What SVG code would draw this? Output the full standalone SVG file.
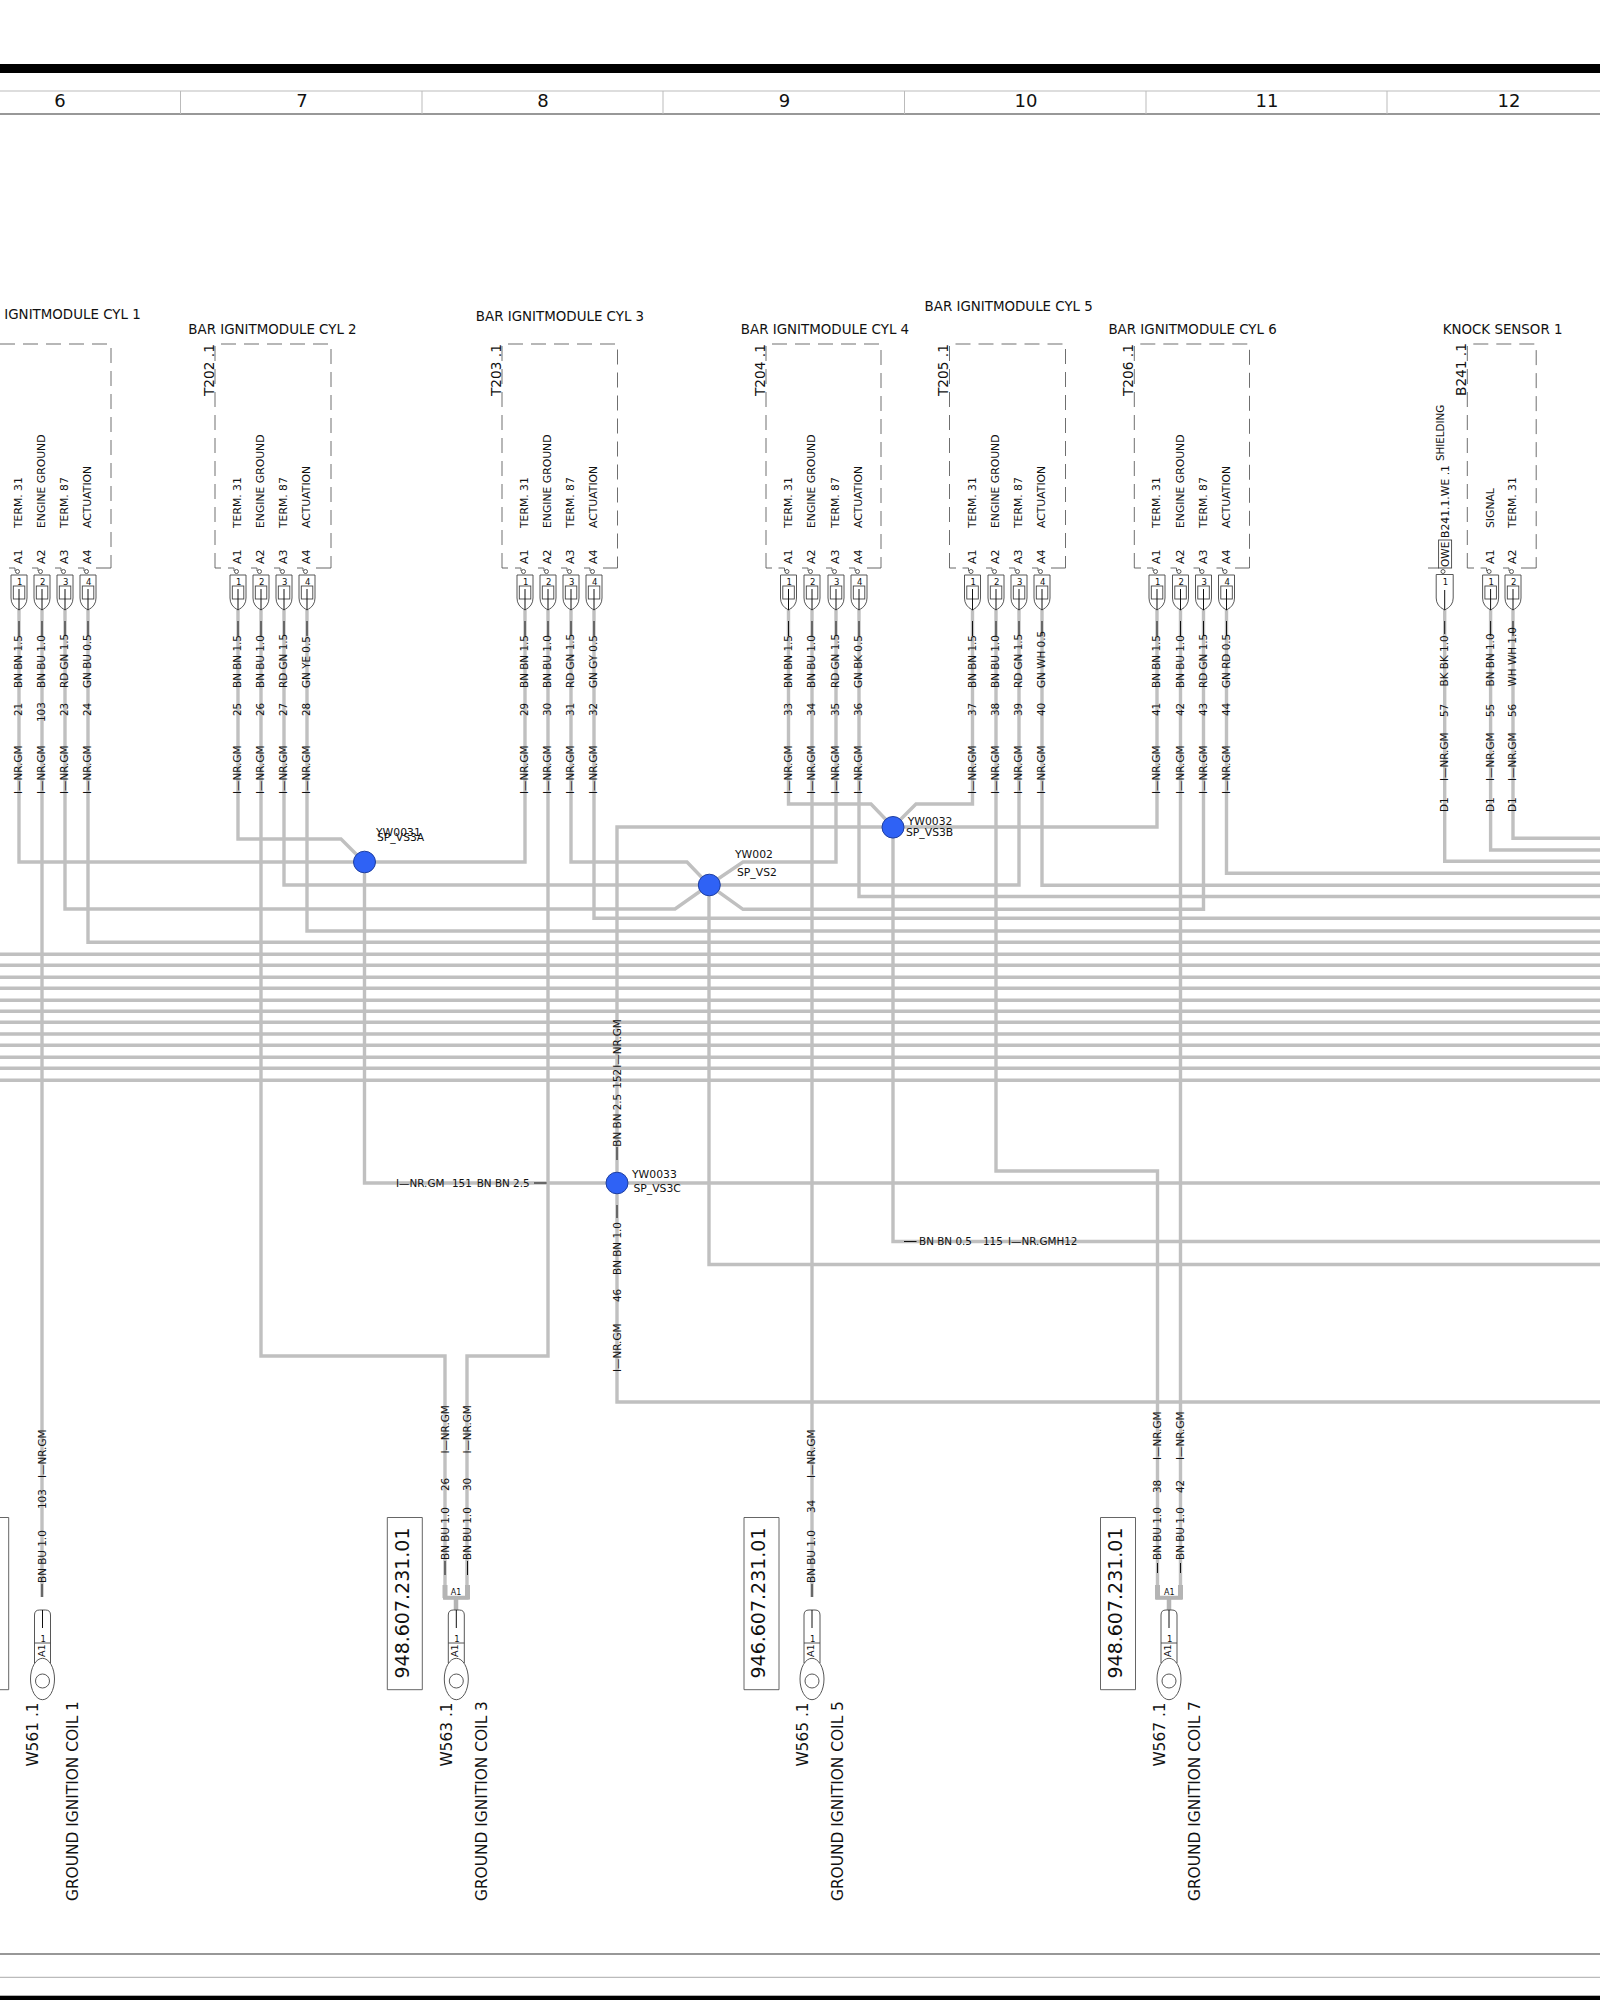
<svg xmlns="http://www.w3.org/2000/svg" xmlns:xlink="http://www.w3.org/1999/xlink" width="1600" height="2000" viewBox="0 0 1600 2000">
<style>
text{font-family:"DejaVu Sans","Liberation Sans",sans-serif;fill:#111}
.w{fill:none;stroke:#c0c0c0;stroke-width:3.4;stroke-linejoin:miter}
.k{stroke:#111;stroke-width:1;fill:none}
.of{stroke:#444;stroke-width:.9;fill:none}
.b{stroke:#555;stroke-width:.85;fill:none;stroke-dasharray:15 8}
.s{stroke:#555;stroke-width:.9;fill:none}
.l{font-size:10.4px}
.f{font-size:10.8px}
.a{font-size:11px}
.n{font-size:8.5px;text-anchor:middle}
.h{font-size:18px;text-anchor:middle}
.ti{font-size:13.4px}
.tc{font-size:13.4px;text-anchor:middle}
.id{font-size:13.7px}
.big{font-size:15.4px}
.pn{font-size:19px;text-anchor:middle}
.j{font-size:10.8px}
.node{fill:#2f62f5;stroke:#1f3fa0;stroke-width:1}
</style>
<defs>
<g id="pin">
<path class="s" d="M-10 568H-4V571"/>
<circle class="of" cx="-1.5" cy="571.5" r="2"/>
<path class="of" d="M-8 575H8V598Q8 606 0 610Q-8 606-8 598Z"/>
<rect class="of" x="-5.7" y="586" width="11.5" height="13"/>
<path class="k" d="M0 589V610M0 621V636"/>
</g>
<g id="term">
<path class="of" d="M-8 1663V1615Q-8 1610-3 1610H3Q8 1610 8 1615V1663M-8 1643H8"/>
<ellipse class="of" cx="0" cy="1679" rx="12" ry="20.7"/>
<circle class="of" cx="0" cy="1681" r="7"/>
<path class="k" d="M0 1610V1628"/>
</g>
</defs>
<g id="frame">
<rect x="0" y="64" width="1600" height="9" fill="#000"/>
<path d="M0 91H1600" stroke="#bbb" stroke-width="1.2" fill="none"/>
<path d="M0 114H1600" stroke="#333" stroke-width="1.2" fill="none"/>
<path d="M180.5 91V114M422 91V114M663 91V114M904.5 91V114M1146 91V114M1387 91V114" stroke="#bbb" stroke-width="1" fill="none"/>
<text class="h" x="60" y="107">6</text><text class="h" x="302" y="107">7</text><text class="h" x="543" y="107">8</text><text class="h" x="784.5" y="107">9</text><text class="h" x="1026" y="107">10</text><text class="h" x="1267" y="107">11</text><text class="h" x="1509" y="107">12</text>
<path d="M0 1954H1600" stroke="#333" stroke-width="1.2" fill="none"/>
<path d="M0 1977.3H1600" stroke="#bbb" stroke-width="1.2" fill="none"/>
<rect x="0" y="1995.7" width="1600" height="4.3" fill="#000"/>
</g>
<g id="connectors">
<path class="w" d="M19 610V862H364"/>
<path class="w" d="M42 610V1597"/>
<path class="w" d="M65 610V909H675L709 885"/>
<path class="w" d="M88 610V942.3H1600"/>
<path class="w" d="M238 610V839H341L364 862"/>
<path class="w" d="M261 610V1356H445V1598H467V1356H548V610"/>
<path class="w" d="M284 610V885H1019V610"/>
<path class="w" d="M307 610V931H1600"/>
<path class="w" d="M525 610V862H364"/>
<path class="w" d="M571 610V862H687L709 885"/>
<path class="w" d="M594 610V918.3H1600"/>
<path class="w" d="M788.5 610V804H871L893 827"/>
<path class="w" d="M812 610V1597"/>
<path class="w" d="M836 610V862H743L709 885"/>
<path class="w" d="M859 610V896.5H1600"/>
<path class="w" d="M972.5 610V804H916L893 827"/>
<path class="w" d="M996 610V1171H1157.5V1598H1180.5V610"/>
<path class="w" d="M1042 610V885.3H1600"/>
<path class="w" d="M1157 610V827H617V1402H1600"/>
<path class="w" d="M1203.5 610V909.3H743L709 885"/>
<path class="w" d="M1226.5 610V873.3H1600"/>
<path class="w" d="M1444.7 610V861.3H1600"/>
<path class="w" d="M1490.6 610V850H1600"/>
<path class="w" d="M1513 610V838.3H1600"/>
<path class="w" d="M364.5 862V1183H1600"/>
<path class="w" d="M893 827V1241.5H1600"/>
<path class="w" d="M709 885V1264.5H1600"/>
<path class="w" d="M0 954.3H1600M0 965.3H1600M0 977.3H1600M0 988.3H1600M0 1000.3H1600M0 1011.3H1600M0 1022.3H1600M0 1034H1600M0 1045.3H1600M0 1057.3H1600M0 1068.3H1600M0 1080.3H1600"/>
<path d="M445 1585V1598M467.5 1585V1598M1157.5 1585V1598M1180.5 1585V1598" stroke="#b4b4b4" stroke-width="5" fill="none"/>
<path d="M456 1598V1610M1169 1598V1610" stroke="#b4b4b4" stroke-width="4.5" fill="none"/>
<path d="M443 1597.6H470M1155 1597.6H1183" stroke="#b4b4b4" stroke-width="3.8" fill="none"/>
<path class="k" d="M534 1183H546.6M904 1241.5H916.5M617 1147V1160M617 1205V1218M42 1584V1597M812 1584V1597M445 1561V1575M467.5 1561V1575M1157.5 1563V1573M1180.5 1563V1573"/>
<text class="l" x="396" y="1187">I—NR.GM<tspan x="452">151</tspan><tspan x="476.7">BN BN 2.5</tspan></text>
<text class="l" x="919" y="1245">BN BN 0.5<tspan x="983">115</tspan><tspan x="1008">I—NR.GMH12</tspan></text>
<text class="l" transform="translate(620.5 1146.7) rotate(-90)">BN BN 2.5<tspan x="58">152</tspan><tspan x="79">I—NR.GM</tspan></text>
<text class="l" transform="translate(620.5 1372) rotate(-90)">I—NR.GM<tspan x="70">46</tspan><tspan x="97">BN BN 1.0</tspan></text>
</g>
<g id="T201">
<path class="b" d="M0 344H111V568"/><path class="s" d="M111 568H96"/>
<use xlink:href="#pin" href="#pin" x="19"/><use xlink:href="#pin" href="#pin" x="42"/><use xlink:href="#pin" href="#pin" x="65"/><use xlink:href="#pin" href="#pin" x="88"/>
<text class="ti" x="4.3" y="318.5">IGNITMODULE CYL 1</text>
<text class="n" x="19.7" y="585">1</text><text class="n" x="42.7" y="585">2</text><text class="n" x="65.7" y="585">3</text><text class="n" x="88.7" y="585">4</text>
<text class="a" transform="translate(22 564) rotate(-90)">A1</text><text class="a" transform="translate(45 564) rotate(-90)">A2</text><text class="a" transform="translate(68 564) rotate(-90)">A3</text><text class="a" transform="translate(91 564) rotate(-90)">A4</text>
<text class="f" transform="translate(22 528) rotate(-90)">TERM. 31</text><text class="f" transform="translate(45 528) rotate(-90)">ENGINE GROUND</text><text class="f" transform="translate(68 528) rotate(-90)">TERM. 87</text><text class="f" transform="translate(91 528) rotate(-90)">ACTUATION</text>
<text class="l" transform="translate(22 794) rotate(-90)">I—NR.GM<tspan x="78">21</tspan><tspan x="106">BN BN 1.5</tspan></text>
<text class="l" transform="translate(45 794) rotate(-90)">I—NR.GM<tspan x="72">103</tspan><tspan x="106">BN BU 1.0</tspan></text>
<text class="l" transform="translate(68 794) rotate(-90)">I—NR.GM<tspan x="78">23</tspan><tspan x="106">RD GN 1.5</tspan></text>
<text class="l" transform="translate(91 794) rotate(-90)">I—NR.GM<tspan x="78">24</tspan><tspan x="106">GN BU 0.5</tspan></text>
</g>
<g id="T202">
<path class="b" d="M215 568V344H331V568"/><path class="s" d="M215 568H221M331 568H316"/>
<use xlink:href="#pin" href="#pin" x="238"/><use xlink:href="#pin" href="#pin" x="261"/><use xlink:href="#pin" href="#pin" x="284"/><use xlink:href="#pin" href="#pin" x="307"/>
<text class="tc" x="272.5" y="333.5">BAR IGNITMODULE CYL 2</text>
<text class="id" transform="translate(213.5 396) rotate(-90)">T202 .1</text>
<text class="n" x="238.7" y="585">1</text><text class="n" x="261.7" y="585">2</text><text class="n" x="284.7" y="585">3</text><text class="n" x="307.7" y="585">4</text>
<text class="a" transform="translate(241 564) rotate(-90)">A1</text><text class="a" transform="translate(264 564) rotate(-90)">A2</text><text class="a" transform="translate(287 564) rotate(-90)">A3</text><text class="a" transform="translate(310 564) rotate(-90)">A4</text>
<text class="f" transform="translate(241 528) rotate(-90)">TERM. 31</text><text class="f" transform="translate(264 528) rotate(-90)">ENGINE GROUND</text><text class="f" transform="translate(287 528) rotate(-90)">TERM. 87</text><text class="f" transform="translate(310 528) rotate(-90)">ACTUATION</text>
<text class="l" transform="translate(241 794) rotate(-90)">I—NR.GM<tspan x="78">25</tspan><tspan x="106">BN BN 1.5</tspan></text>
<text class="l" transform="translate(264 794) rotate(-90)">I—NR.GM<tspan x="78">26</tspan><tspan x="106">BN BU 1.0</tspan></text>
<text class="l" transform="translate(287 794) rotate(-90)">I—NR.GM<tspan x="78">27</tspan><tspan x="106">RD GN 1.5</tspan></text>
<text class="l" transform="translate(310 794) rotate(-90)">I—NR.GM<tspan x="78">28</tspan><tspan x="106">GN YE 0.5</tspan></text>
</g>
<g id="T203">
<path class="b" d="M502 568V344H617.5V568"/><path class="s" d="M502 568H508M617.5 568H603"/>
<use xlink:href="#pin" href="#pin" x="525"/><use xlink:href="#pin" href="#pin" x="548"/><use xlink:href="#pin" href="#pin" x="571"/><use xlink:href="#pin" href="#pin" x="594"/>
<text class="tc" x="560" y="321">BAR IGNITMODULE CYL 3</text>
<text class="id" transform="translate(500.5 396) rotate(-90)">T203 .1</text>
<text class="n" x="525.7" y="585">1</text><text class="n" x="548.7" y="585">2</text><text class="n" x="571.7" y="585">3</text><text class="n" x="594.7" y="585">4</text>
<text class="a" transform="translate(528 564) rotate(-90)">A1</text><text class="a" transform="translate(551 564) rotate(-90)">A2</text><text class="a" transform="translate(574 564) rotate(-90)">A3</text><text class="a" transform="translate(597 564) rotate(-90)">A4</text>
<text class="f" transform="translate(528 528) rotate(-90)">TERM. 31</text><text class="f" transform="translate(551 528) rotate(-90)">ENGINE GROUND</text><text class="f" transform="translate(574 528) rotate(-90)">TERM. 87</text><text class="f" transform="translate(597 528) rotate(-90)">ACTUATION</text>
<text class="l" transform="translate(528 794) rotate(-90)">I—NR.GM<tspan x="78">29</tspan><tspan x="106">BN BN 1.5</tspan></text>
<text class="l" transform="translate(551 794) rotate(-90)">I—NR.GM<tspan x="78">30</tspan><tspan x="106">BN BU 1.0</tspan></text>
<text class="l" transform="translate(574 794) rotate(-90)">I—NR.GM<tspan x="78">31</tspan><tspan x="106">RD GN 1.5</tspan></text>
<text class="l" transform="translate(597 794) rotate(-90)">I—NR.GM<tspan x="78">32</tspan><tspan x="106">GN GY 0.5</tspan></text>
</g>
<g id="T204">
<path class="b" d="M766 568V344H881V568"/><path class="s" d="M766 568H772M881 568H867"/>
<use xlink:href="#pin" href="#pin" x="788.5"/><use xlink:href="#pin" href="#pin" x="812"/><use xlink:href="#pin" href="#pin" x="836"/><use xlink:href="#pin" href="#pin" x="859"/>
<text class="tc" x="825" y="333.5">BAR IGNITMODULE CYL 4</text>
<text class="id" transform="translate(764.5 396) rotate(-90)">T204 .1</text>
<text class="n" x="789.2" y="585">1</text><text class="n" x="812.7" y="585">2</text><text class="n" x="836.7" y="585">3</text><text class="n" x="859.7" y="585">4</text>
<text class="a" transform="translate(791.5 564) rotate(-90)">A1</text><text class="a" transform="translate(815 564) rotate(-90)">A2</text><text class="a" transform="translate(839 564) rotate(-90)">A3</text><text class="a" transform="translate(862 564) rotate(-90)">A4</text>
<text class="f" transform="translate(791.5 528) rotate(-90)">TERM. 31</text><text class="f" transform="translate(815 528) rotate(-90)">ENGINE GROUND</text><text class="f" transform="translate(839 528) rotate(-90)">TERM. 87</text><text class="f" transform="translate(862 528) rotate(-90)">ACTUATION</text>
<text class="l" transform="translate(791.5 794) rotate(-90)">I—NR.GM<tspan x="78">33</tspan><tspan x="106">BN BN 1.5</tspan></text>
<text class="l" transform="translate(815 794) rotate(-90)">I—NR.GM<tspan x="78">34</tspan><tspan x="106">BN BU 1.0</tspan></text>
<text class="l" transform="translate(839 794) rotate(-90)">I—NR.GM<tspan x="78">35</tspan><tspan x="106">RD GN 1.5</tspan></text>
<text class="l" transform="translate(862 794) rotate(-90)">I—NR.GM<tspan x="78">36</tspan><tspan x="106">GN BK 0.5</tspan></text>
</g>
<g id="T205">
<path class="b" d="M949.5 568V344H1065.5V568"/><path class="s" d="M949.5 568H956M1065.5 568H1051"/>
<use xlink:href="#pin" href="#pin" x="972.5"/><use xlink:href="#pin" href="#pin" x="996"/><use xlink:href="#pin" href="#pin" x="1019"/><use xlink:href="#pin" href="#pin" x="1042"/>
<text class="tc" x="1008.7" y="311">BAR IGNITMODULE CYL 5</text>
<text class="id" transform="translate(948 396) rotate(-90)">T205 .1</text>
<text class="n" x="973.2" y="585">1</text><text class="n" x="996.7" y="585">2</text><text class="n" x="1019.7" y="585">3</text><text class="n" x="1042.7" y="585">4</text>
<text class="a" transform="translate(975.5 564) rotate(-90)">A1</text><text class="a" transform="translate(999 564) rotate(-90)">A2</text><text class="a" transform="translate(1022 564) rotate(-90)">A3</text><text class="a" transform="translate(1045 564) rotate(-90)">A4</text>
<text class="f" transform="translate(975.5 528) rotate(-90)">TERM. 31</text><text class="f" transform="translate(999 528) rotate(-90)">ENGINE GROUND</text><text class="f" transform="translate(1022 528) rotate(-90)">TERM. 87</text><text class="f" transform="translate(1045 528) rotate(-90)">ACTUATION</text>
<text class="l" transform="translate(975.5 794) rotate(-90)">I—NR.GM<tspan x="78">37</tspan><tspan x="106">BN BN 1.5</tspan></text>
<text class="l" transform="translate(999 794) rotate(-90)">I—NR.GM<tspan x="78">38</tspan><tspan x="106">BN BU 1.0</tspan></text>
<text class="l" transform="translate(1022 794) rotate(-90)">I—NR.GM<tspan x="78">39</tspan><tspan x="106">RD GN 1.5</tspan></text>
<text class="l" transform="translate(1045 794) rotate(-90)">I—NR.GM<tspan x="78">40</tspan><tspan x="106">GN WH 0.5</tspan></text>
</g>
<g id="T206">
<path class="b" d="M1134.3 568V344H1249.5V568"/><path class="s" d="M1134.3 568H1141M1249.5 568H1235"/>
<use xlink:href="#pin" href="#pin" x="1157"/><use xlink:href="#pin" href="#pin" x="1180.5"/><use xlink:href="#pin" href="#pin" x="1203.5"/><use xlink:href="#pin" href="#pin" x="1226.5"/>
<text class="tc" x="1192.6" y="333.5">BAR IGNITMODULE CYL 6</text>
<text class="id" transform="translate(1133 396) rotate(-90)">T206 .1</text>
<text class="n" x="1157.7" y="585">1</text><text class="n" x="1181.2" y="585">2</text><text class="n" x="1204.2" y="585">3</text><text class="n" x="1227.2" y="585">4</text>
<text class="a" transform="translate(1160 564) rotate(-90)">A1</text><text class="a" transform="translate(1183.5 564) rotate(-90)">A2</text><text class="a" transform="translate(1206.5 564) rotate(-90)">A3</text><text class="a" transform="translate(1229.5 564) rotate(-90)">A4</text>
<text class="f" transform="translate(1160 528) rotate(-90)">TERM. 31</text><text class="f" transform="translate(1183.5 528) rotate(-90)">ENGINE GROUND</text><text class="f" transform="translate(1206.5 528) rotate(-90)">TERM. 87</text><text class="f" transform="translate(1229.5 528) rotate(-90)">ACTUATION</text>
<text class="l" transform="translate(1160 794) rotate(-90)">I—NR.GM<tspan x="78">41</tspan><tspan x="106">BN BN 1.5</tspan></text>
<text class="l" transform="translate(1183.5 794) rotate(-90)">I—NR.GM<tspan x="78">42</tspan><tspan x="106">BN BU 1.0</tspan></text>
<text class="l" transform="translate(1206.5 794) rotate(-90)">I—NR.GM<tspan x="78">43</tspan><tspan x="106">RD GN 1.5</tspan></text>
<text class="l" transform="translate(1229.5 794) rotate(-90)">I—NR.GM<tspan x="78">44</tspan><tspan x="106">GN RD 0.5</tspan></text>
</g>
<g id="B241">
<path class="b" d="M1467.3 568V344H1536.2V568"/><path class="s" d="M1467.3 568H1474M1536.2 568H1521"/>
<use xlink:href="#pin" href="#pin" x="1490.6"/><use xlink:href="#pin" href="#pin" x="1513"/>
<text class="tc" x="1502.6" y="333.5">KNOCK SENSOR 1</text>
<text class="id" transform="translate(1466 396) rotate(-90)">B241 .1</text>
<text class="n" x="1491.3" y="585">1</text><text class="n" x="1513.7" y="585">2</text>
<text class="a" transform="translate(1493.6 564) rotate(-90)">A1</text><text class="a" transform="translate(1516 564) rotate(-90)">A2</text>
<text class="f" transform="translate(1493.6 528) rotate(-90)">SIGNAL</text><text class="f" transform="translate(1516 528) rotate(-90)">TERM. 31</text>
<text class="l" transform="translate(1493.6 812) rotate(-90)">D1<tspan x="31">I—NR.GM</tspan><tspan x="95">55</tspan><tspan x="125.6">BN BN 1.0</tspan></text>
<text class="l" transform="translate(1516 812) rotate(-90)">D1<tspan x="31">I—NR.GM</tspan><tspan x="95">56</tspan><tspan x="125.6">WH WH 1.0</tspan></text>
</g>
<g id="B241-1-WE">
<path class="s" d="M1428 568H1439"/>
<circle class="of" cx="1443" cy="571.5" r="2"/>
<path class="of" d="M1436.2 574.5H1453.2V598Q1453.2 606 1444.7 610Q1436.2 606 1436.2 598Z"/>
<path class="k" d="M1444.7 590V610M1444.7 621V634"/>
<text class="n" x="1445.4" y="585">1</text>
<rect class="of" x="1438.6" y="540" width="13" height="28"/>
<text class="a" transform="translate(1449.2 567) rotate(-90)" style="font-size:10.5px">OWE</text>
<text class="f" transform="translate(1449.2 538) rotate(-90)">B241.1.WE .1</text>
<text class="f" transform="translate(1444 461) rotate(-90)" style="font-size:10.3px">SHIELDING</text>
<text class="l" transform="translate(1447.7 812) rotate(-90)">D1<tspan x="31">I—NR.GM</tspan><tspan x="95">57</tspan><tspan x="125.6">BK BK 1.0</tspan></text>
</g>
<g id="YW0031"><ellipse class="node" cx="364.5" cy="862" rx="11" ry="10.8"/><text class="j" x="376" y="836">YW0031</text><text class="j" x="377" y="840.5">SP_VS3A</text></g>
<g id="YW002"><ellipse class="node" cx="709.3" cy="885" rx="11" ry="10.8"/><text class="j" x="735" y="858">YW002</text><text class="j" x="737" y="875.7">SP_VS2</text></g>
<g id="YW0032"><ellipse class="node" cx="893" cy="827.3" rx="11" ry="10.8"/><text class="j" x="907.7" y="825.3">YW0032</text><text class="j" x="906" y="836">SP_VS3B</text></g>
<g id="YW0033"><ellipse class="node" cx="617" cy="1183" rx="11" ry="10.8"/><text class="j" x="632" y="1178.3">YW0033</text><text class="j" x="633.4" y="1192.3">SP_VS3C</text></g>
<g id="W561">
<path class="s" d="M0 1517.5H8.7V1689.7H0"/>
<use xlink:href="#term" href="#term" x="42.5"/>
<text class="n" x="43.2" y="1642">1</text>
<text class="a" transform="translate(44.5 1657) rotate(-90)" style="font-size:9.5px">A1</text>
<text class="l" transform="translate(45.5 1583) rotate(-90)">BN BU 1.0<tspan x="74">103</tspan><tspan x="105">I—NR.GM</tspan></text>
<text class="big" transform="translate(38 1766.6) rotate(-90)">W561 .1</text>
<text class="big" transform="translate(78 1901) rotate(-90)">GROUND IGNITION COIL 1</text>
</g>
<g id="W563">
<path class="s" d="M387.3 1517.5H422.3V1689.7H387.3Z"/>
<text class="pn" transform="translate(408.5 1603) rotate(-90)">948.607.231.01</text>
<use xlink:href="#term" href="#term" x="456.3"/>
<text class="n" x="457" y="1642">1</text>
<text class="a" transform="translate(458.3 1657) rotate(-90)" style="font-size:9.5px">A1</text>
<text class="a" x="456" y="1594.5" text-anchor="middle" style="font-size:8px">A1</text>
<text class="l" transform="translate(448.5 1560) rotate(-90)">BN BU 1.0<tspan x="69">26</tspan><tspan x="106.4">I—NR.GM</tspan></text>
<text class="l" transform="translate(470.5 1560) rotate(-90)">BN BU 1.0<tspan x="69">30</tspan><tspan x="106.4">I—NR.GM</tspan></text>
<text class="big" transform="translate(452 1766.6) rotate(-90)">W563 .1</text>
<text class="big" transform="translate(487.3 1901) rotate(-90)">GROUND IGNITION COIL 3</text>
</g>
<g id="W565">
<path class="s" d="M744 1517.5H779V1689.7H744Z"/>
<text class="pn" transform="translate(765.2 1603) rotate(-90)">946.607.231.01</text>
<use xlink:href="#term" href="#term" x="812"/>
<text class="n" x="812.7" y="1642">1</text>
<text class="a" transform="translate(814 1657) rotate(-90)" style="font-size:9.5px">A1</text>
<text class="l" transform="translate(815 1583) rotate(-90)">BN BU 1.0<tspan x="70">34</tspan><tspan x="105">I—NR.GM</tspan></text>
<text class="big" transform="translate(807.5 1766.6) rotate(-90)">W565 .1</text>
<text class="big" transform="translate(843 1901) rotate(-90)">GROUND IGNITION COIL 5</text>
</g>
<g id="W567">
<path class="s" d="M1100.5 1517.5H1135.5V1689.7H1100.5Z"/>
<text class="pn" transform="translate(1121.7 1603) rotate(-90)">948.607.231.01</text>
<use xlink:href="#term" href="#term" x="1169"/>
<text class="n" x="1169.7" y="1642">1</text>
<text class="a" transform="translate(1171 1657) rotate(-90)" style="font-size:9.5px">A1</text>
<text class="a" x="1169.3" y="1594.5" text-anchor="middle" style="font-size:8px">A1</text>
<text class="l" transform="translate(1161 1560) rotate(-90)">BN BU 1.0<tspan x="67">38</tspan><tspan x="100">I—NR.GM</tspan></text>
<text class="l" transform="translate(1184 1560) rotate(-90)">BN BU 1.0<tspan x="67">42</tspan><tspan x="100">I—NR.GM</tspan></text>
<text class="big" transform="translate(1164.5 1766.6) rotate(-90)">W567 .1</text>
<text class="big" transform="translate(1200 1901) rotate(-90)">GROUND IGNITION COIL 7</text>
</g>
</svg>
